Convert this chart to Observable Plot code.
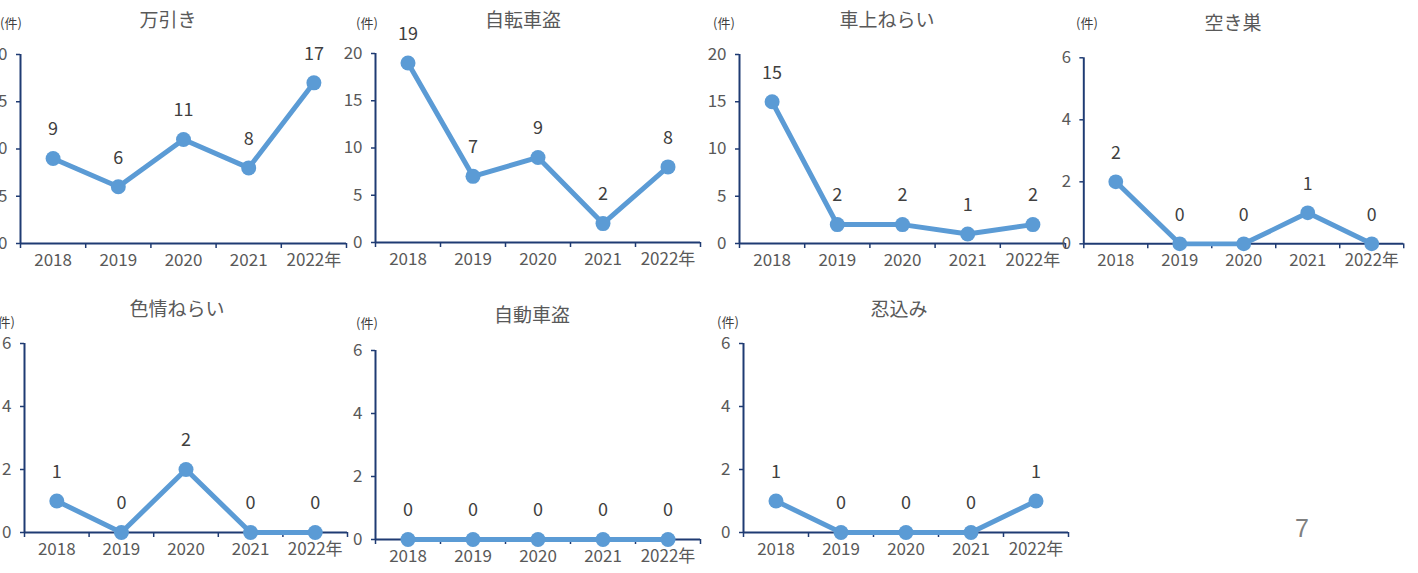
<!DOCTYPE html>
<html><head><meta charset="utf-8">
<script src="https://cdn.jsdelivr.net/npm/d3@7"></script>
<script src="https://cdn.jsdelivr.net/npm/@observablehq/plot@0.6"></script>
<style>
body{margin:0;background:#fff;overflow:hidden;}
#root{position:relative;width:1418px;height:573px;overflow:hidden;font-family:"Noto Sans CJK JP","Noto Sans",sans-serif;}
.title{position:absolute;font-size:19px;color:#595959;transform:translate(-50%,-50%);white-space:nowrap;line-height:1;}
.unit{position:absolute;font-size:13px;color:#404040;transform:translate(0,-50%);white-space:nowrap;line-height:1;}
.page{position:absolute;font-family:"Liberation Sans",Arial,sans-serif;font-size:25px;color:#808080;transform:translate(-50%,-50%);line-height:1;}
.panel{position:absolute;}
.panel svg{overflow:visible;}
</style></head><body><div id="root"></div>
<script>
// ---- data ----
const yearLabels = ["2018","2019","2020","2021","2022年"];
const titles = ["万引き","自転車盗","車上ねらい","空き巣","色情ねらい","自動車盗","忍込み"];
const manbiki     = [9,6,11,8,17];
const jitenshato  = [19,7,9,2,8];
const shajo       = [15,2,2,1,2];
const akisu       = [2,0,0,1,0];
const shikijo     = [1,0,2,0,0];
const jidoshato   = [0,0,0,0,0];
const shinobikomi = [1,0,0,0,1];
const seriesList = [manbiki, jitenshato, shajo, akisu, shikijo, jidoshato, shinobikomi];
const yMaxList = [20,20,20,6,6,6,6];
const yTicks20 = [0,5,10,15,20];
const yTicks6 = [0,2,4,6];
const unitLabel = "(件)";
const pageNumber = "7";

// ---- layout (pixel frame of each panel) ----
const layout = [
  {x0:20,  x1:346,  yTop:54,  yBot:243, tx:168,  ty:18,  ux:0,    uy:22},
  {x0:375, x1:700,  yTop:53,  yBot:242, tx:523,  ty:18,  ux:356,  uy:22},
  {x0:739, x1:1065, yTop:54,  yBot:243, tx:887,  ty:18,  ux:713,  uy:22},
  {x0:1084,x1:1409, yTop:58,  yBot:247, tx:1233, ty:21,  ux:1076, uy:22},
  {x0:24,  x1:347,  yTop:343, yBot:532, tx:177,  ty:307, ux:-7,   uy:321},
  {x0:375, x1:700,  yTop:350, yBot:539, tx:532,  ty:313, ux:356,  uy:322},
  {x0:743, x1:1068, yTop:343, yBot:532, tx:899,  ty:307, ux:717,  uy:321}
];
const page = {x:1302, y:528};

const navy = "#1F3B73";
const blue = "#5B9BD5";
const gray = "#595959";
const numFont = '"Noto Sans CJK JP","Noto Sans",sans-serif';
const root = document.getElementById("root");
const mL = 45, mR = 15, mT = 45, mB = 40;

seriesList.forEach((vals, k) => {
  const L = layout[k];
  const data = vals.map((v, i) => ({i, v}));
  const yMax = yMaxList[k];
  const chart = Plot.plot({
    width: (L.x1 - L.x0) + mL + mR,
    height: (L.yBot - L.yTop) + mT + mB,
    marginLeft: mL, marginRight: mR, marginTop: mT, marginBottom: mB,
    x: {domain: [0, yearLabels.length]},
    y: {domain: [0, yMax]},
    style: {fontFamily: numFont, fontSize: "17px", background: "transparent", color: gray},
    marks: [
      Plot.axisY({ticks: yMax === 20 ? yTicks20 : yTicks6, tickFormat: d3.format("d"), tickSize: 4, tickPadding: 9,
        stroke: navy, fill: gray, fontSize: 17, strokeWidth: 1.5, label: null}),
      Plot.axisX({ticks: d3.range(yearLabels.length + 1), tickFormat: () => "", tickSize: 5,
        stroke: navy, strokeWidth: 1.5, label: null}),
      Plot.axisX({ticks: d3.range(yearLabels.length).map(i => i + 0.5),
        tickFormat: t => yearLabels[Math.floor(t)], tickSize: 0, tickPadding: 10,
        fill: gray, fontSize: 17, label: null}),
      Plot.ruleX([0], {stroke: navy, strokeWidth: 2}),
      Plot.ruleY([0], {stroke: navy, strokeWidth: 2}),
      Plot.line(data, {x: d => d.i + 0.5, y: "v", stroke: blue, strokeWidth: 5}),
      Plot.dot(data, {x: d => d.i + 0.5, y: "v", r: 7.5, fill: blue, stroke: "none"}),
      Plot.text(data, {x: d => d.i + 0.5, y: "v", text: d => String(d.v), dy: -29,
        fill: "#404040", fontSize: 18})
    ]
  });
  const div = document.createElement("div");
  div.className = "panel";
  div.style.left = (L.x0 - mL) + "px";
  div.style.top = (L.yTop - mT) + "px";
  div.appendChild(chart);
  root.appendChild(div);

  const t = document.createElement("div");
  t.className = "title"; t.textContent = titles[k];
  t.style.left = L.tx + "px"; t.style.top = L.ty + "px";
  root.appendChild(t);

  const u = document.createElement("div");
  u.className = "unit"; u.textContent = unitLabel;
  u.style.left = L.ux + "px"; u.style.top = L.uy + "px";
  root.appendChild(u);
});

const p = document.createElement("div");
p.className = "page"; p.textContent = pageNumber;
p.style.left = page.x + "px"; p.style.top = page.y + "px";
root.appendChild(p);
</script>
</body></html>
